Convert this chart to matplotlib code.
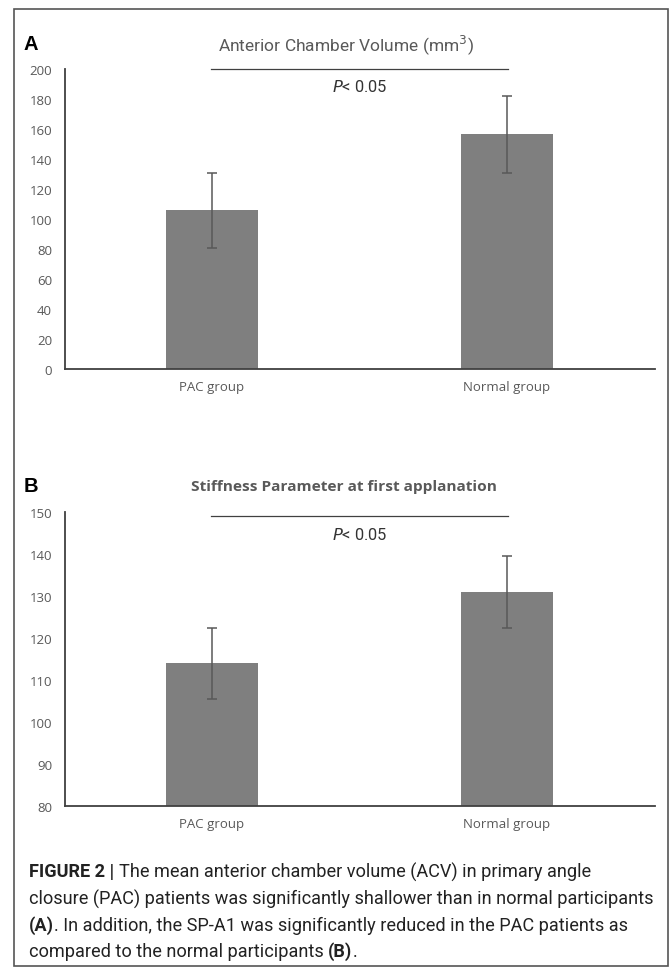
import matplotlib
matplotlib.use("Agg")
import matplotlib.pyplot as plt
from matplotlib.patches import Rectangle

W, H = 669, 970

groups = ["PAC group", "Normal group"]

# panel A: anterior chamber volume (mm3)
acv_mean = [106, 156.5]
acv_err = [25, 25.5]
acv_ticks = [0, 20, 40, 60, 80, 100, 120, 140, 160, 180, 200]

# panel B: stiffness parameter at first applanation
spa1_mean = [114, 131]
spa1_err = [8.5, 8.5]
spa1_ticks = [80, 90, 100, 110, 120, 130, 140, 150]

caption_lines = [
    [("FIGURE 2 | ", "bold"), ("The mean anterior chamber volume (ACV) in primary angle", "normal")],
    [("closure (PAC) patients was significantly shallower than in normal participants", "normal")],
    [("(A)", "bold"), (". In addition, the SP-A1 was significantly reduced in the PAC patients as", "normal")],
    [("compared to the normal participants ", "normal"), ("(B)", "bold"), (".", "normal")],
]

TXT = "#595959"
BAR = "#7f7f7f"
SPINE = "#404040"

fig = plt.figure(figsize=(W / 100, H / 100), dpi=100)
fig.patch.set_facecolor("white")


def px_axes(left, top, right, bottom):
    return fig.add_axes([left / W, 1 - bottom / H, (right - left) / W, (bottom - top) / H])


def fx(x):
    return x / W


def fy(y):
    return 1 - y / H


def bar_panel(ax, means, errs, ticks, sig_y, p_y):
    xs = list(range(len(groups)))
    ax.bar(xs, means, width=0.31, color=BAR, zorder=2)
    ax.errorbar(xs, means, yerr=errs, fmt="none", ecolor=TXT, elinewidth=1.1,
                capsize=3.5, capthick=1.1, zorder=3)
    ax.set_xlim(-0.5, 1.5)
    ax.set_ylim(ticks[0], ticks[-1])
    ax.set_yticks(ticks)
    ax.set_xticks(xs)
    ax.set_xticklabels(groups)
    ax.tick_params(length=0, labelsize=9.5, labelcolor=TXT, pad=9)
    ax.tick_params(axis="x", pad=8)
    for lab in ax.get_xticklabels() + ax.get_yticklabels():
        lab.set_family(["Open Sans", "DejaVu Sans"])
    for s in ["top", "right"]:
        ax.spines[s].set_visible(False)
    for s in ["left", "bottom"]:
        ax.spines[s].set_color(SPINE)
        ax.spines[s].set_linewidth(1.3)
    ax.set_facecolor("none")
    ax.plot([-0.005, 1.005], [sig_y, sig_y], color=SPINE, lw=0.9, clip_on=False)
    ax.text(0.5, p_y, "$\\it{P}$< 0.05", ha="center", va="center", fontsize=11.8,
            color="#333333", family=["Roboto", "DejaVu Sans"])


axA = px_axes(64.5, 70, 654.5, 370)
bar_panel(axA, acv_mean, acv_err, acv_ticks, 200, 188.5)

axB = px_axes(64.5, 513, 654.5, 807)
bar_panel(axB, spa1_mean, spa1_err, spa1_ticks, 149, 144.7)

# panel letters and titles
fig.text(fx(24), fy(45), "A", fontsize=14.5, fontweight="bold", va="center",
         family=["Liberation Sans", "DejaVu Sans"], color="black")
fig.text(fx(346), fy(45), "Anterior Chamber Volume (mm$^3$)", fontsize=12.5, ha="center",
         va="center", color=TXT, family=["Roboto", "DejaVu Sans"])
fig.text(fx(24), fy(487), "B", fontsize=14.5, fontweight="bold", va="center",
         family=["Liberation Sans", "DejaVu Sans"], color="black")
fig.text(fx(344), fy(487), "Stiffness Parameter at first applanation", fontsize=11.1,
         ha="center", va="center", color=TXT, fontweight="bold",
         family=["Open Sans", "DejaVu Sans"])

# outer frame
fig.patches.append(Rectangle((fx(14), fy(967)), (654) / W, (957) / H, transform=fig.transFigure,
                             fill=False, edgecolor="#555555", lw=1.2))

# caption, written run by run so bold parts sit inline
fig.canvas.draw()
renderer = fig.canvas.get_renderer()
line_y = [872, 899, 926, 952]
for runs, y in zip(caption_lines, line_y):
    x = 29
    for txt, weight in runs:
        t = fig.text(fx(x), fy(y), txt, fontsize=13.1, fontweight=weight, va="center",
                     color="#222222", family=["Roboto", "DejaVu Sans"])
        bb = t.get_window_extent(renderer)
        x += bb.width

fig.savefig("out.png", dpi=100, facecolor="white")
